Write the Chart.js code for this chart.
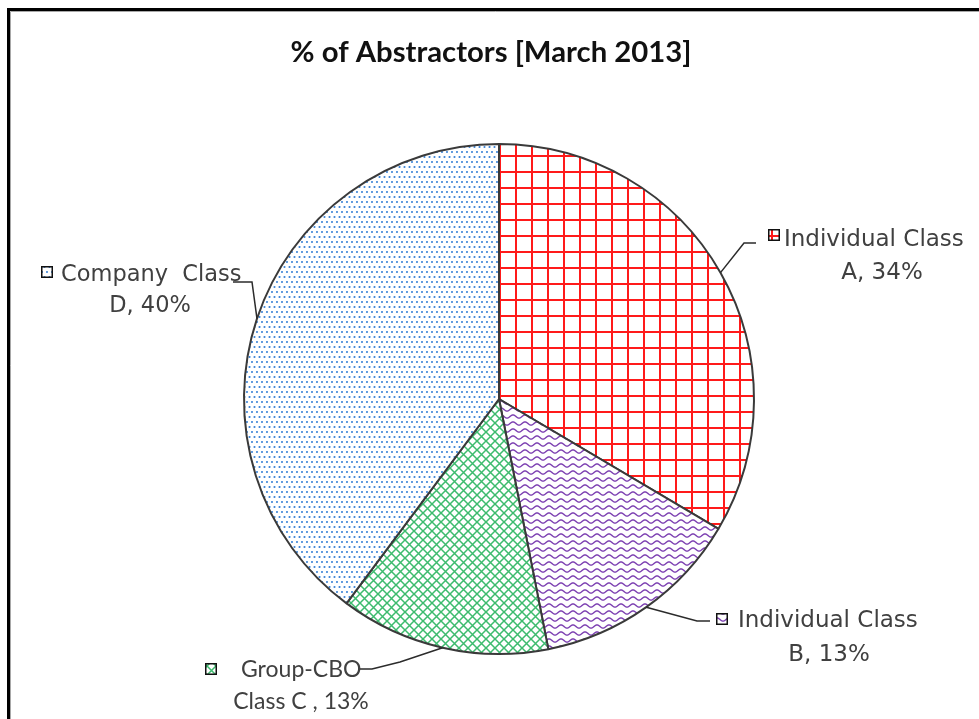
<!DOCTYPE html>
<html>
<head>
<meta charset="utf-8">
<script src="https://cdn.jsdelivr.net/npm/chart.js@4/dist/chart.umd.min.js"></script>
<style>
  html, body { margin: 0; padding: 0; background: #ffffff; }
  #c { display: block; }
</style>
</head>
<body>
<canvas id="c" width="979" height="719"></canvas>
<script>
// ---- data ----
const titleText = '% of Abstractors [March 2013]';
const categories = ['Individual Class A', 'Individual Class B', 'Group-CBO Class C', 'Company Class D'];
const shares = [33.5, 13.4, 13.3, 39.8];
const labelLine1 = ['Individual Class', 'Individual Class', 'Group-CBO', 'Company  Class'];
const labelLine2Prefix = ['A, ', 'B, ', 'Class C , ', 'D, '];

// ---- patterns ----
function makePattern(kind) {
  const t = document.createElement('canvas');
  const g = t.getContext('2d');
  if (kind === 'grid') {
    t.width = 16; t.height = 16;
    g.fillStyle = '#fff'; g.fillRect(0, 0, 16, 16);
    g.fillStyle = '#ff1a1a';
    g.fillRect(3, 0, 2, 16);
    g.fillRect(0, 11, 16, 2);
  } else if (kind === 'wave') {
    t.width = 12; t.height = 7;
    g.fillStyle = '#fff'; g.fillRect(0, 0, 12, 7);
    g.strokeStyle = '#7a3db0'; g.lineWidth = 1.4;
    g.beginPath();
    for (let x = -1; x <= 13; x += 0.5) {
      const y = 3.5 + 1.6 * Math.sin(2 * Math.PI * x / 12);
      if (x === -1) g.moveTo(x, y); else g.lineTo(x, y);
    }
    g.stroke();
  } else if (kind === 'diag') {
    t.width = 9; t.height = 9;
    g.fillStyle = '#fff'; g.fillRect(0, 0, 9, 9);
    g.strokeStyle = '#3dbb6e'; g.lineWidth = 1.5;
    g.beginPath();
    g.moveTo(-1, -1); g.lineTo(10, 10);
    g.moveTo(10, -1); g.lineTo(-1, 10);
    g.stroke();
  } else if (kind === 'dots') {
    t.width = 10; t.height = 10;
    g.fillStyle = '#fff'; g.fillRect(0, 0, 10, 10);
    g.fillStyle = '#3a82d6';
    [[2, 2], [7, 2], [4.5, 7], [9.5, 7], [-0.5, 7]].forEach(function (p) {
      g.beginPath(); g.arc(p[0], p[1], 1.05, 0, Math.PI * 2); g.fill();
    });
  }
  return t.getContext('2d').createPattern(t, 'repeat');
}
const fills = [makePattern('grid'), makePattern('wave'), makePattern('diag'), makePattern('dots')];

// ---- label layout ----
const labelLayout = [
  { key: [768, 229], l1: [784, 246], l2: [882, 279], font: 'DejaVu Sans', size: 23, elbow: [[744, 243], [756, 243]] },
  { key: [716, 613], l1: [738, 627], l2: [829, 661], font: 'DejaVu Sans', size: 23, elbow: [[697, 621], [710, 621]] },
  { key: [205, 663], l1: [241, 677], l2: [301, 709], font: 'Lato', size: 23, elbow: [[400, 662], [372, 669], [358, 669]] },
  { key: [41, 266], l1: [61, 281], l2: [150, 312], font: 'DejaVu Sans', size: 22.5, elbow: [[252, 282], [233, 282]] }
];

const framePlugin = {
  id: 'frame',
  beforeDraw(chart) {
    const ctx = chart.ctx;
    ctx.save();
    ctx.fillStyle = '#fff';
    ctx.fillRect(0, 0, chart.width, chart.height);
    ctx.strokeStyle = '#000'; ctx.lineWidth = 3;
    ctx.beginPath();
    ctx.moveTo(8.5, chart.height + 2); ctx.lineTo(8.5, 9.5); ctx.lineTo(chart.width + 2, 9.5);
    ctx.stroke();
    ctx.strokeStyle = '#a8a8a8'; ctx.lineWidth = 1;
    ctx.beginPath();
    ctx.moveTo(10.5, chart.height + 2); ctx.lineTo(10.5, 11.5); ctx.lineTo(chart.width + 2, 11.5);
    ctx.stroke();
    // title
    ctx.fillStyle = '#111';
    ctx.textAlign = 'center'; ctx.textBaseline = 'alphabetic';
    ctx.font = 'bold 24px Lato';
    const w = ctx.measureText(titleText).width;
    const fs = 24 * 401 / w;
    ctx.font = 'bold ' + fs.toFixed(2) + 'px Lato';
    ctx.fillText(titleText, 491, 62);
    ctx.restore();
  }
};

const labelPlugin = {
  id: 'sliceLabels',
  afterDatasetsDraw(chart) {
    const ctx = chart.ctx;
    const meta = chart.getDatasetMeta(0);
    ctx.save();
    meta.data.forEach(function (arc, i) {
      const p = arc.getProps(['x', 'y', 'startAngle', 'endAngle', 'outerRadius'], true);
      const mid = (p.startAngle + p.endAngle) / 2;
      const rx = p.x + Math.cos(mid) * p.outerRadius;
      const ry = p.y + Math.sin(mid) * p.outerRadius;
      const L = labelLayout[i];
      ctx.strokeStyle = '#2b2b2b'; ctx.lineWidth = 1.5;
      ctx.beginPath();
      ctx.moveTo(rx, ry);
      L.elbow.forEach(function (pt) { ctx.lineTo(pt[0], pt[1]); });
      ctx.stroke();
      // key
      ctx.fillStyle = fills[i];
      ctx.fillRect(L.key[0], L.key[1], 12, 12);
      ctx.strokeStyle = '#111'; ctx.lineWidth = 1.5;
      ctx.strokeRect(L.key[0] + 0.75, L.key[1] + 0.75, 10.5, 10.5);
      // text
      const pct = Math.round(shares[i]);
      ctx.fillStyle = '#404040';
      ctx.font = L.size + 'px "' + L.font + '"';
      ctx.textBaseline = 'alphabetic';
      ctx.textAlign = 'left';
      ctx.fillText(labelLine1[i], L.l1[0], L.l1[1]);
      ctx.textAlign = 'center';
      ctx.fillText(labelLine2Prefix[i] + pct + '%', L.l2[0], L.l2[1]);
    });
    ctx.restore();
  }
};

new Chart(document.getElementById('c'), {
  type: 'pie',
  data: {
    labels: categories,
    datasets: [{
      data: shares,
      backgroundColor: fills,
      borderColor: '#3a3a3a',
      borderWidth: 2
    }]
  },
  options: {
    responsive: false,
    animation: false,
    layout: { padding: { left: 243, top: 143, right: 224, bottom: 64 } },
    plugins: {
      legend: { display: false },
      title: { display: false },
      tooltip: { enabled: false }
    }
  },
  plugins: [framePlugin, labelPlugin]
});
</script>
</body>
</html>
